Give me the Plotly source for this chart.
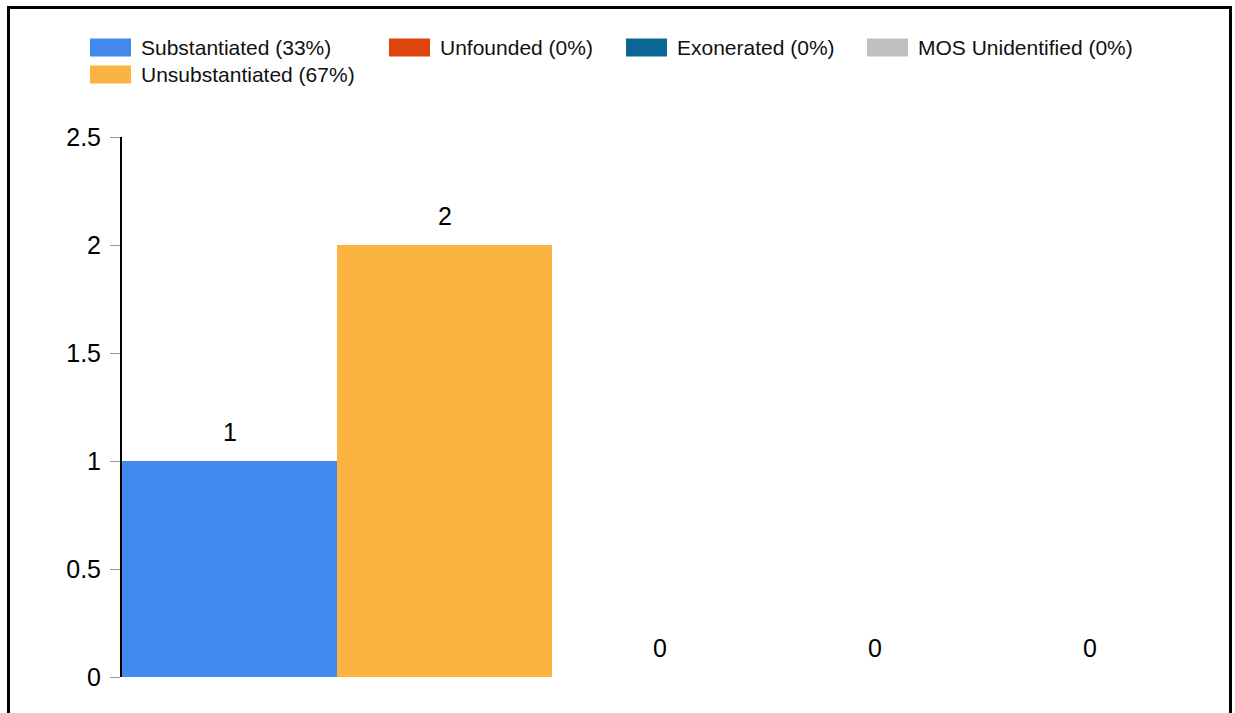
import plotly.graph_objects as go

# ---- data ----
categories = ["Substantiated", "Unsubstantiated", "Unfounded", "Exonerated", "MOS Unidentified"]
counts = [1, 2, 0, 0, 0]
legend_labels = ["Substantiated (33%)", "Unsubstantiated (67%)", "Unfounded (0%)",
                 "Exonerated (0%)", "MOS Unidentified (0%)"]
colors = ["#438AEF", "#FBB442", "#E0440E", "#0A6694", "#BFBFBF"]
y_ticks = [0, 0.5, 1, 1.5, 2, 2.5]
y_tick_text = ["0", "0.5", "1", "1.5", "2", "2.5"]

W, H = 1235, 713
ML, MR, MT, MB = 122, 38, 137, 36
PW, PH = W - ML - MR, H - MT - MB

def px_x(px):  # screen px -> paper
    return (px - ML) / PW

def px_y(py):
    return (H - MB - py) / PH

FONT = "Liberation Sans, Arial, sans-serif"

fig = go.Figure()
for i, (cat, val, col) in enumerate(zip(categories, counts, colors)):
    fig.add_trace(go.Bar(x=[i], y=[val], name=legend_labels[i], marker=dict(color=col, line=dict(width=0)),
                         showlegend=False, hoverinfo="skip"))

# value labels
for i, val in enumerate(counts):
    fig.add_annotation(x=i, y=val, xref="x", yref="y", text=str(val), showarrow=False,
                       yanchor="middle", yshift=29, font=dict(family=FONT, size=25, color="#000000"))

# manual legend (two rows like the reference)
legend_pos = [(90, 47.5), (90, 74.5), (389, 47.5), (626, 47.5), (867, 47.5)]
for (lx, ly), lab, col in zip(legend_pos, legend_labels, colors):
    fig.add_shape(type="rect", xref="paper", yref="paper",
                  x0=px_x(lx), x1=px_x(lx + 41), y0=px_y(ly - 9), y1=px_y(ly + 9),
                  fillcolor=col, line=dict(width=0))
    fig.add_annotation(xref="paper", yref="paper", x=px_x(lx + 49), y=px_y(ly), text=lab,
                       showarrow=False, xanchor="left", yanchor="middle",
                       font=dict(family=FONT, size=21, color="#111111"))

# outer border
fig.add_shape(type="rect", xref="paper", yref="paper",
              x0=px_x(8.5), x1=px_x(1230.5), y0=px_y(730), y1=px_y(7.5),
              line=dict(color="#000000", width=3), fillcolor="rgba(0,0,0,0)", layer="above")

fig.update_layout(
    width=W, height=H,
    margin=dict(l=ML, r=MR, t=MT, b=MB, pad=0),
    paper_bgcolor="white", plot_bgcolor="white",
    barmode="relative", bargap=0,
    showlegend=False,
    font=dict(family=FONT, color="#000000"),
    xaxis=dict(range=[-0.5, 4.5], showticklabels=False, showgrid=False, zeroline=False,
               showline=False, ticks=""),
    yaxis=dict(range=[0, 2.5], tickvals=y_ticks, ticktext=y_tick_text, showgrid=False,
               zeroline=False, showline=True, linecolor="#000000", linewidth=2,
               ticks="outside", ticklen=10, tickcolor="#999999", tickwidth=1,
               ticklabelstandoff=4,
               tickfont=dict(family=FONT, size=25, color="#000000")),
)

fig.write_html("out.html",
               config={"displayModeBar": False, "staticPlot": True},
               post_script="document.body.style.margin='0';document.body.style.overflow='hidden';")
